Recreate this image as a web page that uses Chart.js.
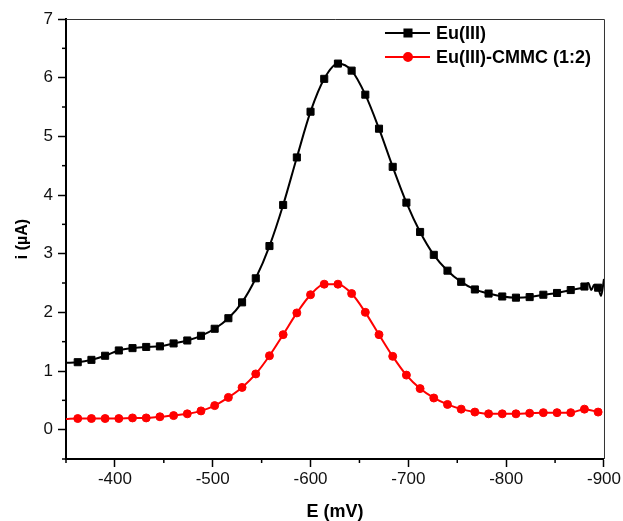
<!DOCTYPE html>
<html>
<head>
<meta charset="utf-8">
<script src="https://cdn.jsdelivr.net/npm/chart.js@4.4.0/dist/chart.umd.min.js"></script>
<style>
  html, body { margin: 0; padding: 0; background: #fff; }
  #wrap { width: 623px; height: 521px; }
</style>
</head>
<body>
<div id="wrap"><canvas id="chart" width="623" height="521"></canvas></div>
<script>
// potentials (mV) where the markers sit
const potentials = [-362, -376, -390, -404, -418, -432, -446, -460, -474, -488,
  -502, -516, -530, -544, -558, -572, -586, -600, -614, -628,
  -642, -656, -670, -684, -698, -712, -726, -740, -754, -768,
  -782, -796, -810, -824, -838, -852, -866, -880, -894];

const euValues = [1.15, 1.19, 1.26, 1.35, 1.39, 1.41, 1.42, 1.47, 1.52, 1.60,
  1.72, 1.90, 2.17, 2.58, 3.13, 3.83, 4.64, 5.42, 5.98, 6.24,
  6.12, 5.71, 5.13, 4.48, 3.87, 3.37, 2.98, 2.71, 2.52, 2.39,
  2.32, 2.27, 2.25, 2.26, 2.30, 2.33, 2.38, 2.44, 2.42];

const cmmcValues = [0.19, 0.19, 0.19, 0.19, 0.20, 0.20, 0.22, 0.24, 0.27, 0.32,
  0.41, 0.55, 0.72, 0.95, 1.26, 1.62, 1.99, 2.30, 2.48, 2.48,
  2.32, 2.00, 1.62, 1.25, 0.93, 0.70, 0.54, 0.43, 0.35, 0.30,
  0.27, 0.27, 0.27, 0.28, 0.29, 0.29, 0.29, 0.35, 0.30];

// line parts without markers (start of the scan and the noisy tail)
const euExtraE = [-350, -884, -887, -890, -897, -900];
const euExtraI = [1.14, 2.50, 2.38, 2.47, 2.28, 2.57];
const cmmcExtraE = [-350];
const cmmcExtraI = [0.18];

const xMajor = [-400, -500, -600, -700, -800, -900];
const yMajor = [0, 1, 2, 3, 4, 5, 6, 7];

const seriesNames = ['Eu(III)', 'Eu(III)-CMMC (1:2)'];

function buildPoints(es, is, extraE, extraI) {
  const pts = es.map((e, k) => ({ x: e, y: is[k], m: true }));
  extraE.forEach((e, k) => pts.push({ x: e, y: extraI[k], m: false }));
  pts.sort((a, b) => b.x - a.x);
  return pts;
}

const FONT = "'Liberation Sans', Arial, sans-serif";

const frameAndTicks = {
  id: 'frameAndTicks',
  afterDraw(chart) {
    const ctx = chart.ctx;
    const a = chart.chartArea;
    ctx.save();
    // top and right border
    ctx.strokeStyle = '#333';
    ctx.lineWidth = 1;
    ctx.beginPath();
    ctx.moveTo(a.left, a.top + 0.5);
    ctx.lineTo(a.right + 0.5, a.top + 0.5);
    ctx.lineTo(a.right + 0.5, a.bottom);
    ctx.stroke();
    // minor ticks
    ctx.strokeStyle = '#000';
    ctx.lineWidth = 1.5;
    const xs = chart.scales.x, ys = chart.scales.y;
    xs.ticks.forEach(t => {
      if (xMajor.includes(t.value)) return;
      const px = xs.getPixelForValue(t.value);
      ctx.beginPath();
      ctx.moveTo(px, a.bottom);
      ctx.lineTo(px, a.bottom + 4);
      ctx.stroke();
    });
    ys.ticks.forEach(t => {
      if (yMajor.includes(t.value)) return;
      const py = ys.getPixelForValue(t.value);
      ctx.beginPath();
      ctx.moveTo(a.left, py);
      ctx.lineTo(a.left - 4, py);
      ctx.stroke();
    });
    ctx.restore();
  }
};

const boxLegend = {
  id: 'boxLegend',
  afterDraw(chart) {
    const ctx = chart.ctx;
    const a = chart.chartArea;
    ctx.save();
    chart.data.datasets.forEach((ds, k) => {
      const y = a.top + 14 + k * 24;
      const x0 = a.right - 219;
      ctx.strokeStyle = ds.borderColor;
      ctx.lineWidth = 2;
      ctx.beginPath();
      ctx.moveTo(x0, y);
      ctx.lineTo(x0 + 45, y);
      ctx.stroke();
      ctx.fillStyle = ds.pointBackgroundColor;
      ctx.strokeStyle = ds.borderColor;
      Chart.helpers.drawPoint(ctx, {
        pointStyle: ds.pointStyle, radius: ds.legendRadius, rotation: 0, borderWidth: 1
      }, x0 + 23, y);
      ctx.fillStyle = '#000';
      ctx.font = 'bold 18px ' + FONT;
      ctx.textBaseline = 'middle';
      ctx.textAlign = 'left';
      ctx.fillText(ds.label, x0 + 51, y + 1);
    });
    ctx.restore();
  }
};

new Chart(document.getElementById('chart'), {
  type: 'line',
  data: {
    datasets: [
      {
        label: seriesNames[0],
        data: buildPoints(potentials, euValues, euExtraE, euExtraI),
        borderColor: '#000',
        backgroundColor: '#000',
        pointBackgroundColor: '#000',
        borderWidth: 2,
        pointStyle: 'rect',
        legendRadius: 5,
        pointRadius: c => (c.raw && c.raw.m ? 5 : 0),
        pointBorderWidth: 1,
        cubicInterpolationMode: 'monotone'
      },
      {
        label: seriesNames[1],
        data: buildPoints(potentials, cmmcValues, cmmcExtraE, cmmcExtraI),
        borderColor: '#ff0000',
        backgroundColor: '#ff0000',
        pointBackgroundColor: '#ff0000',
        borderWidth: 2,
        pointStyle: 'circle',
        legendRadius: 4,
        pointRadius: c => (c.raw && c.raw.m ? 4 : 0),
        pointBorderWidth: 1,
        cubicInterpolationMode: 'monotone'
      }
    ]
  },
  options: {
    responsive: false,
    animation: false,
    layout: { padding: { top: 19, right: 17, left: 0, bottom: 0 } },
    plugins: {
      legend: { display: false },
      tooltip: { enabled: false }
    },
    scales: {
      x: {
        type: 'linear',
        reverse: true,
        min: -900,
        max: -350,
        afterFit: s => { s.height = 62; },
        ticks: {
          stepSize: 50,
          autoSkip: false,
          maxRotation: 0,
          padding: 2,
          color: '#111',
          font: { family: FONT, size: 17 },
          callback: v => (xMajor.includes(v) ? String(v) : '')
        },
        grid: {
          drawOnChartArea: false,
          tickLength: 8,
          tickWidth: 1.5,
          tickColor: c => (xMajor.includes(c.tick.value) ? '#000' : 'rgba(0,0,0,0)')
        },
        border: { color: '#000', width: 2 },
        title: {
          display: true,
          text: 'E (mV)',
          color: '#000',
          font: { family: FONT, size: 18, weight: 'bold', lineHeight: 1 },
          padding: { top: 0, bottom: 0 }
        }
      },
      y: {
        min: -0.5,
        max: 7,
        afterFit: s => { s.width = 66; },
        ticks: {
          stepSize: 0.5,
          autoSkip: false,
          padding: 5,
          color: '#111',
          font: { family: FONT, size: 17 },
          callback: v => (yMajor.includes(v) ? String(v) : '')
        },
        grid: {
          drawOnChartArea: false,
          tickLength: 8,
          tickWidth: 1.5,
          tickColor: c => (yMajor.includes(c.tick.value) ? '#000' : 'rgba(0,0,0,0)')
        },
        border: { color: '#000', width: 2 },
        title: {
          display: true,
          text: 'i (\u00b5A)',
          color: '#000',
          font: { family: FONT, size: 16, weight: 'bold', lineHeight: 1 },
          padding: { top: 15, bottom: 0 }
        }
      }
    }
  },
  plugins: [frameAndTicks, boxLegend]
});
</script>
</body>
</html>
